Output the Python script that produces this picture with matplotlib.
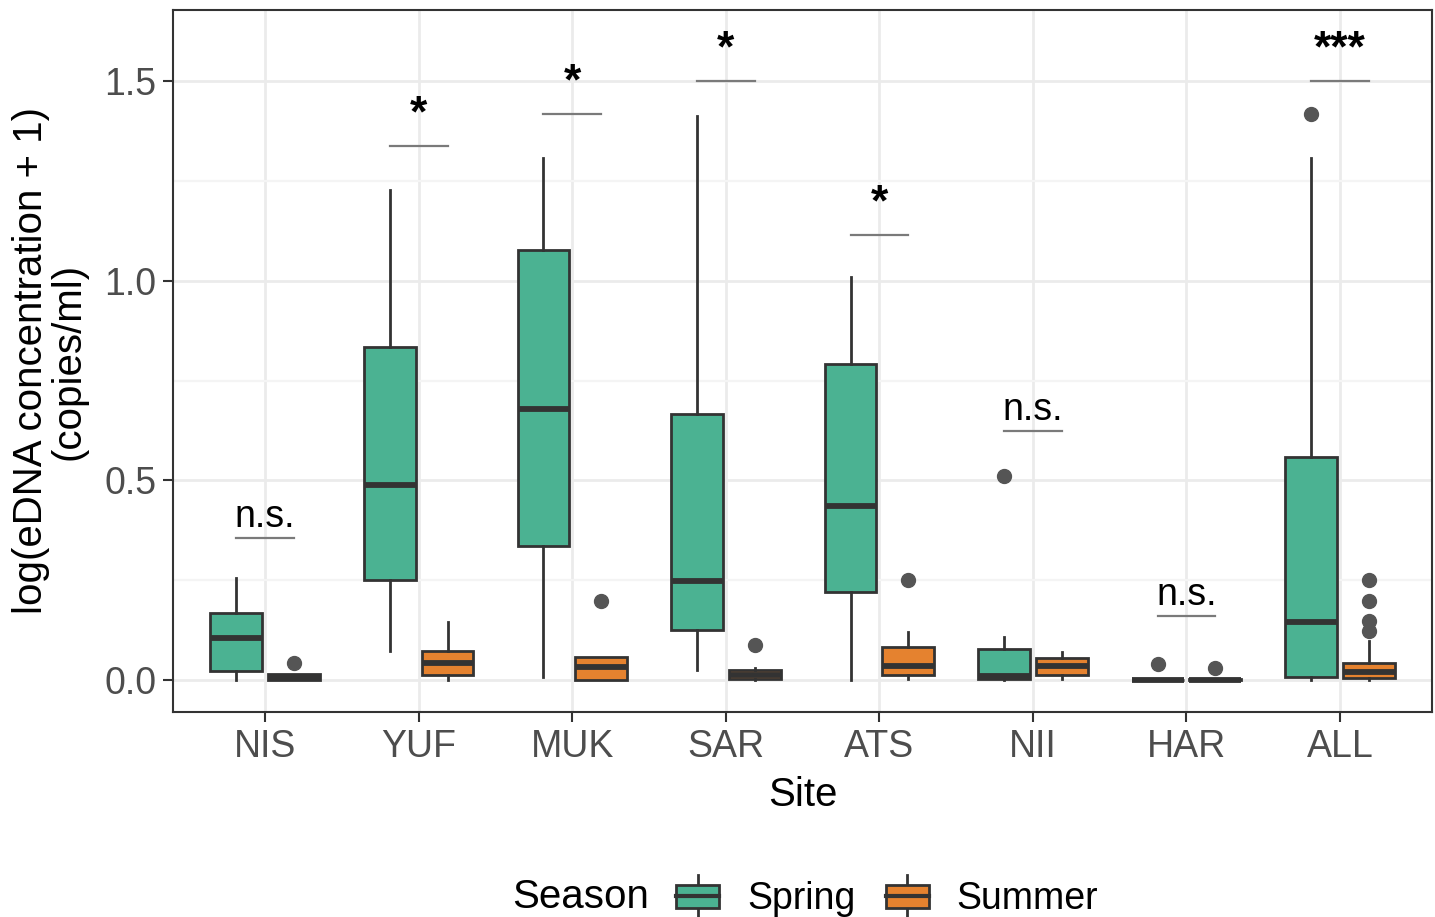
import matplotlib
matplotlib.use("Agg")
import matplotlib.pyplot as plt
from matplotlib.legend_handler import HandlerBase
from matplotlib.patches import Rectangle
from matplotlib.lines import Line2D
import numpy as np

plt.rcParams['font.family'] = ['Liberation Sans', 'DejaVu Sans']

sites = ["NIS", "YUF", "MUK", "SAR", "ATS", "NII", "HAR", "ALL"]

# box summaries per site (log(eDNA + 1))
spring_q1 = [0.022, 0.250, 0.336, 0.125, 0.220, 0.003, 0.000, 0.008]
spring_med = [0.106, 0.488, 0.679, 0.248, 0.436, 0.010, 0.000, 0.145]
spring_q3 = [0.168, 0.834, 1.077, 0.666, 0.791, 0.078, 0.000, 0.558]
spring_lo = [0.000, 0.073, 0.008, 0.025, 0.000, 0.000, 0.000, 0.000]
spring_hi = [0.255, 1.227, 1.307, 1.412, 1.009, 0.108, 0.000, 1.307]
spring_out = [[], [], [], [], [], [0.512], [0.040], [1.417]]

summer_q1 = [0.000, 0.013, 0.000, 0.003, 0.013, 0.012, 0.000, 0.004]
summer_med = [0.005, 0.043, 0.033, 0.012, 0.036, 0.035, 0.000, 0.021]
summer_q3 = [0.015, 0.073, 0.058, 0.025, 0.083, 0.056, 0.003, 0.042]
summer_lo = [0.000, 0.000, 0.000, 0.000, 0.002, 0.003, 0.000, 0.000]
summer_hi = [0.015, 0.145, 0.058, 0.030, 0.120, 0.070, 0.003, 0.098]
summer_out = [[0.043], [], [0.198], [0.088], [0.250], [], [0.030],
              [0.123, 0.148, 0.199, 0.250]]

# significance brackets
sig_y = [0.356, 1.337, 1.417, 1.500, 1.114, 0.624, 0.160, 1.500]
sig_label = ["n.s.", "*", "*", "*", "*", "n.s.", "n.s.", "***"]

SPRING = "#4BB292"
SUMMER = "#E5822F"
EDGE = "#333333"


def make_stats(q1, med, q3, lo, hi, out):
    return [dict(q1=a, med=b, q3=c, whislo=d, whishi=e, fliers=f)
            for a, b, c, d, e, f in zip(q1, med, q3, lo, hi, out)]


fig = plt.figure(figsize=(14.35, 9.17), dpi=100)
ax = fig.add_axes([0.1206, 0.2236, 0.8774, 0.7655])

x = np.arange(1, len(sites) + 1)
dodge = 0.1875
width = 0.3375

for stats, pos, col in [
    (make_stats(spring_q1, spring_med, spring_q3, spring_lo, spring_hi, spring_out), x - dodge, SPRING),
    (make_stats(summer_q1, summer_med, summer_q3, summer_lo, summer_hi, summer_out), x + dodge, SUMMER),
]:
    ax.bxp(stats, positions=pos, widths=width, patch_artist=True, showcaps=False,
           boxprops=dict(facecolor=col, edgecolor=EDGE, linewidth=2.0),
           medianprops=dict(color=EDGE, linewidth=4.2, solid_capstyle='butt'),
           whiskerprops=dict(color=EDGE, linewidth=2.0),
           flierprops=dict(marker='o', markerfacecolor='#555555', markeredgecolor='#555555',
                           markersize=10),
           manage_ticks=False, zorder=3)

for xi, yv, lab in zip(x, sig_y, sig_label):
    ax.plot([xi - dodge, xi + dodge], [yv, yv], color='#7a7a7a', lw=1.6, zorder=4)
    if lab == "n.s.":
        ax.text(xi, yv + 0.028, lab, ha='center', va='baseline', fontsize=27, color='black')
    else:
        ax.text(xi, yv + 0.05, lab, ha='center', va='baseline', fontsize=32,
                fontweight='bold', color='black')

ax.set_xlim(0.4, 8.6)
ax.set_ylim(-0.08, 1.678)
ax.set_xticks(x)
ax.set_xticklabels(sites)
ax.set_yticks([0.0, 0.5, 1.0, 1.5])
ax.set_yticklabels(["0.0", "0.5", "1.0", "1.5"])
ax.set_yticks([0.25, 0.75, 1.25], minor=True)

ax.grid(True, which='major', color='#EBEBEB', lw=2.0, zorder=0)
ax.grid(True, which='minor', axis='y', color='#F4F4F4', lw=1.6, zorder=0)
ax.set_axisbelow(True)
ax.tick_params(axis='both', which='major', labelsize=27, labelcolor='#4D4D4D',
               color='#333333', length=7, width=1.5, pad=5)
ax.tick_params(axis='y', which='minor', length=0)
for s in ax.spines.values():
    s.set_color('#333333')
    s.set_linewidth(1.5)

ax.set_xlabel("Site", fontsize=29, labelpad=8)
ax.set_ylabel("log(eDNA concentration + 1)\n(copies/ml)", fontsize=29,
              labelpad=12, linespacing=1.0)


class BoxKey(HandlerBase):
    def create_artists(self, legend, orig_handle, xdescent, ydescent,
                       width, height, fontsize, trans):
        x0, y0 = -xdescent, -ydescent
        b0, b1 = y0 + 0.22 * height, y0 + 0.78 * height
        xm = x0 + width / 2
        box = Rectangle((x0, b0), width, b1 - b0, facecolor=orig_handle.get_facecolor(),
                        edgecolor=EDGE, lw=2.0, transform=trans)
        med = Line2D([x0, x0 + width], [(b0 + b1) / 2] * 2, color=EDGE, lw=3.0,
                     transform=trans)
        w1 = Line2D([xm, xm], [y0 - 0.1 * height, b0], color=EDGE, lw=2.0, transform=trans)
        w2 = Line2D([xm, xm], [b1, y0 + 1.05 * height], color=EDGE, lw=2.0, transform=trans)
        return [w1, w2, box, med]


handles = [Rectangle((0, 0), 1, 1, facecolor=SPRING), Rectangle((0, 0), 1, 1, facecolor=SUMMER)]
fig.legend(handles, ["Spring", "Summer"], handler_map={Rectangle: BoxKey()},
           loc='center left', bbox_to_anchor=(676 / 1435, 0.022), ncol=2, frameon=False,
           fontsize=27, handlelength=1.15, handleheight=1.25, handletextpad=0.75,
           columnspacing=0.8, borderpad=0, borderaxespad=0)
fig.text(512 / 1435, 0.022, "Season", fontsize=29, ha='left', va='center')

fig.savefig("out.png", dpi=100)
